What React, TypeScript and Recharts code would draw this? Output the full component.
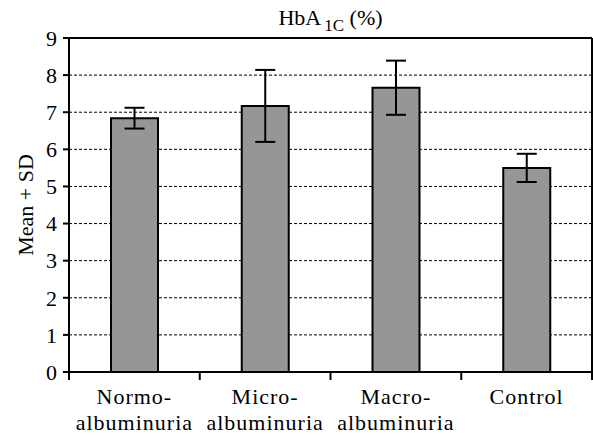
import { BarChart, Bar, XAxis, YAxis, CartesianGrid, ErrorBar, ReferenceLine } from 'recharts'

const categories = ['Normo-\nalbuminuria', 'Micro-\nalbuminuria', 'Macro-\nalbuminuria', 'Control']
const means = [6.84, 7.17, 7.66, 5.5]
const sds = [0.28, 0.97, 0.73, 0.38]
const yTicks = [0, 1, 2, 3, 4, 5, 6, 7, 8, 9]

const W = 593
const H = 435
const Y_AXIS_W = 69
const RIGHT_AXIS_W = 1
const X_AXIS_H = 63
const BAND = (W - Y_AXIS_W - RIGHT_AXIS_W) / categories.length
const FONT = "'Liberation Serif', 'Times New Roman', serif"

const data = categories.map((name, i) => ({ name, mean: means[i], sd: sds[i] }))

function CategoryTick(props: any) {
  const { x, y, payload, index } = props
  const lines = String(payload.value).split('\n')
  const axisY = y - 8
  const left = x - BAND / 2
  const right = x + BAND / 2
  return (
    <g>
      <line x1={left} x2={left} y1={axisY} y2={axisY + 8} stroke="#000" strokeWidth={2} />
      {index === categories.length - 1 && (
        <line x1={right} x2={right} y1={axisY} y2={axisY + 8} stroke="#000" strokeWidth={2} />
      )}
      {lines.map((line, i) => (
        <text
          key={i}
          x={x}
          y={axisY + 32 + i * 26}
          textAnchor="middle"
          style={{ fontFamily: FONT, fontSize: 22, letterSpacing: 1 }}
          fill="#000"
        >
          {line}
        </text>
      ))}
    </g>
  )
}

function YLabel(props: any) {
  const { viewBox } = props
  const cx = viewBox.x + 25
  const cy = viewBox.y + viewBox.height / 2
  return (
    <text
      x={cx}
      y={cy}
      transform={`rotate(-90, ${cx}, ${cy})`}
      textAnchor="middle"
      dominantBaseline="central"
      style={{ fontFamily: FONT, fontSize: 22 }}
      fill="#000"
    >
      Mean + SD
    </text>
  )
}

export default function App() {
  return (
    <div
      style={{
        position: 'absolute',
        left: 0,
        top: 0,
        width: W,
        height: H,
        background: '#fff',
        fontFamily: FONT,
      }}
    >
      <div
        style={{
          position: 'absolute',
          left: Y_AXIS_W,
          top: 7,
          width: W - Y_AXIS_W - RIGHT_AXIS_W,
          textAlign: 'center',
          fontSize: 22,
          lineHeight: '22px',
          color: '#000',
          whiteSpace: 'nowrap',
        }}
      >
        HbA<span style={{ fontSize: 17, position: 'relative', top: 6, marginLeft: 3 }}>1C</span> (%)
      </div>
      <BarChart
        width={W}
        height={H}
        data={data}
        margin={{ top: 38, right: 0, bottom: 0, left: 0 }}
        style={{ fontFamily: FONT }}
      >
        <CartesianGrid yAxisId="left" vertical={false} stroke="#000" strokeDasharray="3 2" />
        <XAxis
          dataKey="name"
          height={X_AXIS_H}
          tickSize={8}
          tickMargin={0}
          tickLine={false}
          axisLine={{ stroke: '#000', strokeWidth: 2 }}
          tick={<CategoryTick />}
          interval={0}
        />
        <YAxis
          yAxisId="left"
          width={Y_AXIS_W}
          domain={[0, 9]}
          ticks={yTicks}
          tickSize={6}
          tickMargin={6}
          axisLine={{ stroke: '#000', strokeWidth: 2 }}
          tickLine={{ stroke: '#000', strokeWidth: 2 }}
          tick={{ fill: '#000', fontSize: 22, style: { fontFamily: FONT, fontSize: 22 } }}
          label={<YLabel />}
        />
        <YAxis
          yAxisId="right"
          orientation="right"
          width={RIGHT_AXIS_W}
          domain={[0, 9]}
          ticks={yTicks}
          tick={false}
          tickLine={false}
          axisLine={{ stroke: '#000', strokeWidth: 2 }}
        />
        <ReferenceLine yAxisId="left" y={9} stroke="#000" strokeWidth={2} />
        <Bar
          yAxisId="left"
          dataKey="mean"
          barSize={47}
          fill="#969696"
          stroke="#000"
          strokeWidth={2}
          isAnimationActive={false}
        >
          <ErrorBar dataKey="sd" width={10} stroke="#000" strokeWidth={2} isAnimationActive={false} />
        </Bar>
      </BarChart>
    </div>
  )
}
